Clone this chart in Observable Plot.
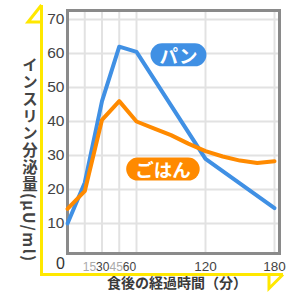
<!DOCTYPE html>
<html><head><meta charset="utf-8">
<script src="https://cdn.jsdelivr.net/npm/d3@7"></script>
<script src="https://cdn.jsdelivr.net/npm/@observablehq/plot@0.6"></script>
<style>body{margin:0;background:#fff}</style>
</head><body><div id="chart"></div>
<script>
// Data
const breadMinutes = [0, 15, 30, 45, 60, 120, 180];
const breadValues = [10, 22, 46, 62, 60.5, 29, 14.5];
const riceMinutes = [0, 15, 30, 45, 60, 75, 90, 105, 120, 135, 150, 165, 180];
const riceValues = [14.3, 19.5, 40.5, 46, 40, 38, 36, 33.5, 31.3, 29.7, 28.5, 27.8, 28.3];
const seriesNames = ["パン", "ごはん"];
const seriesColors = ["#4090e4", "#ff8a00"];
const labelMinutes = [96.5, 83];
const labelValues = [59, 25.4];
const xGrid = [15, 30, 45, 60, 120, 180];
const yGrid = [10, 20, 30, 40, 50, 60, 70];
const yTickLabels = ["10", "20", "30", "40", "50", "60", "70"];
const xSmallTicks = [15, 30, 45, 60];
const xSmallLabels = ["15", "30", "45", "60"];
const xBigTicks = [120, 180];
const xBigLabels = ["120", "180"];
const xTitle = "食後の経過時間（分）";
const yTitle = "インスリン分泌量(μU/ml)";

const bread = breadMinutes.map((m, i) => ({minute: m, value: breadValues[i]}));
const rice = riceMinutes.map((m, i) => ({minute: m, value: riceValues[i]}));
const labels = seriesNames.map((s, i) => ({name: s, minute: labelMinutes[i], value: labelValues[i]}));
const yTicks = yGrid.map((v, i) => ({v, t: yTickLabels[i]}));
const xBig = xBigTicks.map((v, i) => ({v, t: xBigLabels[i]}));
const smallJoined = xSmallLabels.join("");

const sans = "'Liberation Sans', Arial, sans-serif";
const cjk = "'Noto Sans CJK JP', sans-serif";

const chart = Plot.plot({
  width: 286, height: 295,
  marginLeft: 67, marginTop: 10, marginRight: 7, marginBottom: 42,
  x: {domain: [0, 180], range: [67, 274], axis: null},
  y: {domain: [0, 70], range: [257, 19], axis: null},
  style: {background: "#fff", fontFamily: sans, overflow: "visible"},
  marks: [
    Plot.ruleX(xGrid, {stroke: "#e2e2e2", strokeWidth: 2}),
    Plot.ruleY(yGrid, {stroke: "#e2e2e2", strokeWidth: 2}),
    Plot.frame({stroke: "#8a8a8a", strokeWidth: 3}),
    Plot.line(bread, {x: "minute", y: "value", stroke: seriesColors[0], strokeWidth: 4, strokeLinejoin: "round"}),
    Plot.line(rice, {x: "minute", y: "value", stroke: seriesColors[1], strokeWidth: 4, strokeLinejoin: "round"}),
    Plot.text(labels, {x: "minute", y: "value", text: "name", fill: "white", fontSize: 18.5, fontWeight: "bold", fontFamily: cjk}),
    Plot.text(yTicks, {x: () => 0, y: "v", text: "t", textAnchor: "end", dx: -3, fontSize: 15.5, fill: "#444"}),
    Plot.text([0], {x: d => d, y: d => d, text: d => String(d), dx: -7, dy: 6, fontSize: 16, fill: "#333"}),
    Plot.text([smallJoined], {x: () => xSmallTicks[0], y: () => 0, text: d => d, textAnchor: "start", dx: -2, dy: 10, fontSize: 12, fill: "#444"}),
    Plot.text(xBig, {x: "v", y: () => 0, text: "t", dy: 9, fontSize: 13.5, fill: "#444"}),
    Plot.text([xTitle], {frameAnchor: "bottom", dx: 3.5, dy: 34.5, fontSize: 14, fontWeight: "bold", fontFamily: cjk, fill: "#3a3a3a"}),
    Plot.text([yTitle], {frameAnchor: "left", textAnchor: "start", dx: -37.5, dy: -80, fontSize: 15.5, fontWeight: "bold", fontFamily: cjk, fill: "#444"})
  ]
});
document.getElementById("chart").append(chart);

const svg = d3.select(chart);
svg.selectAll("text").each(function() {
  const txt = this.textContent;
  const si = seriesNames.indexOf(txt);
  if (si >= 0) {
    // rounded pill behind the series label
    const bb = this.getBBox();
    const h = 23;
    const r = document.createElementNS("http://www.w3.org/2000/svg", "rect");
    r.setAttribute("x", bb.x - 9);
    r.setAttribute("width", bb.width + 18);
    r.setAttribute("y", bb.y + bb.height / 2 - h / 2);
    r.setAttribute("height", h);
    r.setAttribute("rx", h / 2);
    r.setAttribute("fill", seriesColors[si]);
    if (this.getAttribute("transform")) r.setAttribute("transform", this.getAttribute("transform"));
    this.parentNode.insertBefore(r, this);
  } else if (txt === smallJoined) {
    const t = d3.select(this);
    t.text(null);
    xSmallLabels.forEach((s, i) => t.append("tspan").attr("fill", i % 2 ? "#444" : "#aaa").text(s));
  } else if (txt === yTitle) {
    this.removeAttribute("dy");
    this.setAttribute("text-anchor", "start");
    this.style.writingMode = "vertical-rl";
    this.style.letterSpacing = "1.5px";
  }
});
// yellow arrowed axes
svg.append("path")
  .attr("d", "M41.5,5V274.5H283M41.5,5L28,22H41.5M283,274.5L269,288.5V274.5")
  .attr("fill", "none").attr("stroke", "#ffe800").attr("stroke-width", 3)
  .attr("stroke-linejoin", "miter");
</script>
</body></html>
